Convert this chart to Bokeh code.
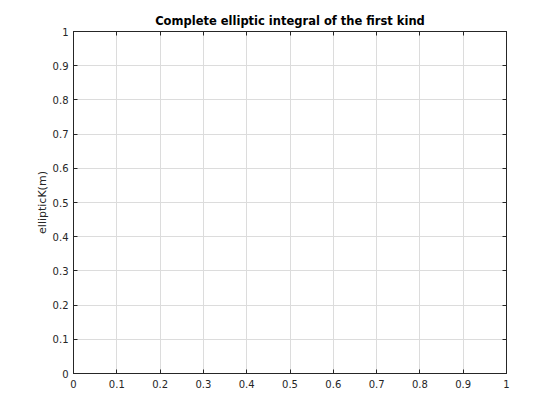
from bokeh.plotting import figure
from bokeh.models import Range1d, LinearAxis, FixedTicker, ColumnDataSource
from bokeh.embed import file_html
from bokeh.resources import INLINE

# Data (the reference shows an empty axes: no plotted values)
m_values = []
K_values = []

x_ticks = [0, 0.1, 0.2, 0.3, 0.4, 0.5, 0.6, 0.7, 0.8, 0.9, 1]
x_tick_labels = ["0", "0.1", "0.2", "0.3", "0.4", "0.5", "0.6", "0.7", "0.8", "0.9", "1"]
y_ticks = [0, 0.1, 0.2, 0.3, 0.4, 0.5, 0.6, 0.7, 0.8, 0.9, 1]
y_tick_labels = ["0", "0.1", "0.2", "0.3", "0.4", "0.5", "0.6", "0.7", "0.8", "0.9", "1"]

title_text = "Complete elliptic integral of the first kind"
y_label = "ellipticK(m)"

FONT = "DejaVu Sans"
TEXT_COLOR = "#262626"

p = figure(width=552, height=412, output_backend="svg", toolbar_location=None,
           x_range=Range1d(0, 1), y_range=Range1d(0, 1),
           x_axis_location="below", y_axis_location="left",
           min_border_left=73, min_border_right=46, min_border_top=31, min_border_bottom=39)

p.title.text = title_text
p.title.align = "center"
p.title.text_font = FONT
p.title.text_font_size = "11.5px"
p.title.text_font_style = "bold"
p.title.text_color = "#000000"
p.title.standoff = 8

src = ColumnDataSource(dict(m=m_values, K=K_values))
p.line("m", "K", source=src, line_color="#0072BD", line_width=1)

p.outline_line_color = "#262626"
p.outline_line_width = 1
p.background_fill_color = "white"
p.border_fill_color = "white"

def style_axis(ax, ticks, labels, show_labels=True):
    ax.ticker = FixedTicker(ticks=ticks)
    ax.major_label_overrides = {t: l for t, l in zip(ticks, labels)}
    ax.major_tick_in = 4
    ax.major_tick_out = 0
    ax.minor_tick_in = 0
    ax.minor_tick_out = 0
    ax.axis_line_color = "#262626"
    ax.major_tick_line_color = "#262626"
    ax.major_label_text_font = FONT
    ax.major_label_text_font_size = "10px" if show_labels else "0px"
    ax.major_label_text_color = TEXT_COLOR
    ax.major_label_standoff = 5

style_axis(p.xaxis[0], x_ticks, x_tick_labels)
style_axis(p.yaxis[0], y_ticks, y_tick_labels)
p.xaxis[0].major_label_standoff = 6
p.yaxis[0].axis_label = y_label
p.yaxis[0].axis_label_text_font = FONT
p.yaxis[0].axis_label_text_font_size = "11px"
p.yaxis[0].axis_label_text_font_style = "normal"
p.yaxis[0].axis_label_text_color = TEXT_COLOR
p.yaxis[0].axis_label_standoff = 1

top_axis = LinearAxis()
style_axis(top_axis, x_ticks, [""] * len(x_ticks), show_labels=False)
p.add_layout(top_axis, "above")
right_axis = LinearAxis()
style_axis(right_axis, y_ticks, [""] * len(y_ticks), show_labels=False)
p.add_layout(right_axis, "right")

for g in (p.xgrid[0], p.ygrid[0]):
    g.grid_line_color = "#dcdcdc"
    g.grid_line_width = 1
p.xgrid[0].ticker = FixedTicker(ticks=x_ticks)
p.ygrid[0].ticker = FixedTicker(ticks=y_ticks)

open("out.html", "w").write(file_html(p, INLINE))
